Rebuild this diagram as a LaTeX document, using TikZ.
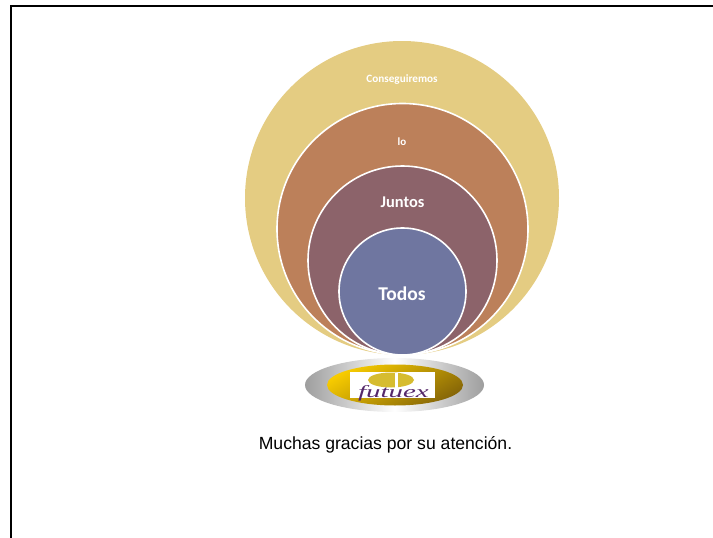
\documentclass[tikz,border=0pt]{standalone}
\usepackage{fontspec}
\usepackage{tikz}
\usetikzlibrary{positioning, shapes.geometric}
\setmainfont{Liberation Sans}
\newfontfamily\calibrifont{Carlito}
\newfontfamily\logofont[FakeStretch=1.7]{Liberation Serif}

\definecolor{ringA}{HTML}{E4CC82}
\definecolor{ringB}{HTML}{BC805A}
\definecolor{ringC}{HTML}{8C636A}
\definecolor{ringD}{HTML}{6F76A0}
\definecolor{goldA}{HTML}{F8CC00}
\definecolor{goldB}{HTML}{866608}
\definecolor{markgold}{HTML}{D6BC30}
\definecolor{logopurple}{HTML}{55286A}

\tikzset{
  ring/.style={circle, draw=white, line width=1.6pt, inner sep=0pt, outer sep=0pt},
  ringtext/.style={text=white, inner sep=0pt},
}

\begin{document}
\begin{tikzpicture}[x=1pt, y=-1pt]
\useasboundingbox (0,0) rectangle (713,538);

% frame
\draw[line width=2pt] (11,538) -- (11,6) -- (713,6);

% nested circles
\node (conseguiremos) [ring, fill=ringA, draw=none, minimum size=314pt] at (402,198) {};
\node (lo) [ring, fill=ringB, minimum size=251pt] at (402.5,229) {};
\node (juntos) [ring, fill=ringC, minimum size=189pt] at (402.5,260.5) {};
\node (todos) [ring, fill=ringD, minimum size=127pt] at (402.5,291.5) {};

\node (text_conseguiremos) [ringtext, font=\calibrifont\bfseries\fontsize{11.2}{13}\selectfont] at (402,80) {Conseguiremos};
\node (text_lo) [ringtext, font=\calibrifont\bfseries\fontsize{11}{13}\selectfont] at (402,142) {lo};
\node (text_juntos) [ringtext, font=\calibrifont\bfseries\fontsize{16.4}{18}\selectfont] at (402.5,202.5) {Juntos};
\node (text_todos) [ringtext, font=\calibrifont\bfseries\fontsize{19.5}{22}\selectfont] at (402,293.5) {Todos};

% logo
\node (plate) [ellipse, minimum width=179pt, minimum height=54pt, inner sep=0pt, left color=black!38, right color=black!38, middle color=white] at (394.5,385) {};
\node (gold) [ellipse, minimum width=136pt, minimum height=41pt, inner sep=0pt, top color=goldA, bottom color=goldB, shading angle=30] at (395,385) {};
\node (logobox) [fill=white, minimum width=85pt, minimum height=26pt, inner sep=0pt] at (392.5,385) {};
\node (mark) [ellipse, fill=markgold, minimum width=46pt, minimum height=15pt, inner sep=0pt] at (391,380) {};
\fill[white] (394.5,372.5) rectangle (398,388);
\node (futuex) [font=\logofont\itshape\fontsize{17}{17}\selectfont, text=logopurple, inner sep=0pt] at (393.5,393) {futuex};

% closing line
\node (thanks) [font=\fontsize{17.6}{20}\selectfont, inner sep=0pt] at (385.5,444.5) {Muchas gracias por su atención.};

\end{tikzpicture}
\end{document}
